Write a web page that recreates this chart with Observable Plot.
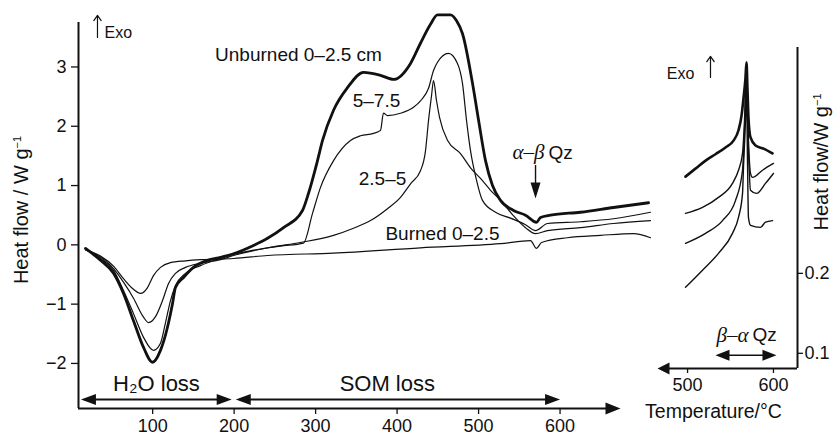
<!DOCTYPE html>
<html><head><meta charset="utf-8">
<script src="https://cdn.jsdelivr.net/npm/d3@7"></script>
<script src="https://cdn.jsdelivr.net/npm/@observablehq/plot@0.6"></script>
<style>
body{margin:0;background:#fff;}
#wrap{position:relative;width:833px;height:436px;font-family:"Liberation Sans",Arial,sans-serif;color:#111;overflow:hidden;}
#wrap svg{position:absolute;top:0;}
.ttl{position:absolute;white-space:nowrap;font-size:20px;transform:translate(-50%,-50%) rotate(-90deg);}
.ttl sup{font-size:11px;vertical-align:7px;line-height:0;}
</style></head><body>
<div id="wrap"></div>
<script>
// ---- main panel series: [temperature °C, heat flow W/g]
const unburned = [[17.6,-0.06],[36,-0.26],[52,-0.48],[64.2,-0.82],[76.5,-1.28],[88.8,-1.73],[99.8,-1.98],[109.6,-1.78],[118.2,-1.39],[124.4,-0.99],[128,-0.72],[137.9,-0.55],[150.1,-0.38],[167.3,-0.26],[183.3,-0.21],[199.2,-0.15],[223.8,-0.01],[241,0.11],[260.6,0.29],[283.9,0.58],[291.3,0.87],[302.3,1.42],[308.5,1.76],[322,2.27],[339.1,2.65],[358.8,2.91],[379.6,2.86],[395.6,2.79],[416.5,3.06],[428.7,3.40],[441,3.72],[449.6,3.88],[465.6,3.88],[473,3.78],[480.3,3.56],[492.6,2.72],[500,2.10],[508.5,1.42],[517.1,1.0],[526.9,0.75],[542.9,0.58],[557.6,0.50],[571.1,0.38],[576,0.46],[588.3,0.50],[625.1,0.55],[665.6,0.63],[708.6,0.71]];
const depth5_75 = [[17.6,-0.08],[36,-0.23],[52,-0.43],[64.2,-0.77],[76.5,-1.16],[88.8,-1.56],[101,-1.78],[109.6,-1.66],[115.8,-1.31],[121.9,-0.94],[128,-0.69],[140.3,-0.48],[158.7,-0.35],[183.3,-0.23],[199.2,-0.16],[223.8,-0.09],[256.9,-0.02],[285.1,0.03],[296.2,0.53],[306,0.97],[322,1.42],[342.8,1.76],[355.1,1.84],[371,1.88],[379.6,1.93],[383.3,2.22],[388.2,2.18],[404.2,2.22],[420.1,2.32],[428.7,2.43],[438.6,2.64],[444.7,2.94],[449.6,3.08],[463,3.23],[474.1,3.06],[480.3,2.72],[485.2,2.10],[490.1,1.59],[497.5,1.09],[504.8,0.75],[520.8,0.55],[539.2,0.45],[557.6,0.34],[569.9,0.24],[584.6,0.36],[625.1,0.39],[665.6,0.44],[711,0.55]];
const depth2_5_5 = [[17.6,-0.08],[36,-0.21],[52,-0.40],[64.2,-0.63],[76.5,-0.90],[88.8,-1.22],[94.9,-1.31],[103.5,-1.21],[112.1,-0.94],[119.5,-0.65],[128,-0.48],[140.3,-0.38],[158.7,-0.31],[183.3,-0.25],[199.2,-0.18],[244.6,-0.04],[281.4,0.04],[322,0.16],[346.5,0.28],[367.4,0.41],[388.2,0.61],[404.2,0.80],[416.5,1.03],[428.7,1.25],[434.9,1.59],[438.6,2.10],[442.3,2.52],[444.7,2.77],[448.4,2.43],[452.1,2.15],[462,1.76],[477.8,1.54],[490.1,1.30],[502.4,1.12],[514.7,0.92],[527,0.75],[541.6,0.51],[557.6,0.29],[569.9,0.19],[584.6,0.24],[625.1,0.29],[665.6,0.36],[711,0.41]];
const burned = [[17.6,-0.08],[36,-0.19],[52,-0.36],[64.2,-0.57],[76.5,-0.75],[85.1,-0.82],[93.7,-0.72],[101,-0.52],[109.6,-0.38],[121.9,-0.30],[140.3,-0.27],[158.7,-0.25],[199.2,-0.23],[241,-0.18],[322,-0.14],[428.7,-0.05],[526.9,0.02],[563.7,0.07],[571.1,-0.06],[577.3,0.04],[609.2,0.12],[649.7,0.16],[690.2,0.19],[711,0.12]];
// ---- inset series (quartz transition region)
const insetA = [[497.6,0.321],[509.2,0.331],[521,0.341],[532.5,0.349],[544.2,0.3575],[553.5,0.366],[559.3,0.379],[562.8,0.397],[565.1,0.419],[567.4,0.444],[568.6,0.464],[569.8,0.429],[570.9,0.395],[573.3,0.37],[579.1,0.36],[588.4,0.356],[598.9,0.35]];
const insetB = [[497.6,0.275],[517.4,0.2825],[536,0.295],[552.3,0.3125],[559.3,0.329],[564,0.35],[566.3,0.391],[568.6,0.454],[570.9,0.366],[573.3,0.325],[575.6,0.32],[587.2,0.329],[600,0.3375]];
const insetC = [[497.6,0.2375],[520.9,0.25],[540.7,0.266],[555.8,0.291],[564,0.329],[566.3,0.379],[568.6,0.4475],[570.9,0.354],[573.3,0.304],[580.3,0.30],[590.7,0.3125],[600,0.325]];
const insetD = [[497.6,0.1825],[517.4,0.204],[536,0.225],[552.3,0.25],[559.3,0.27],[564,0.30],[565.1,0.3325],[567.4,0.391],[568.6,0.435],[569.8,0.34],[570.9,0.27],[573.3,0.26],[584.9,0.2575],[590.7,0.264],[599,0.266]];
// ---- ticks
const mainXTicks = [100,200,300,400,500,600];
const mainYTicks = [-2,-1,0,1,2,3];
const insetXTicks = [500,600];
const insetYTicks = [0.1,0.2];
// ---- annotations
const curveLabels = [
  {text:"Unburned 0–2.5 cm", T:279, v:3.21},
  {text:"5–7.5", T:374.7, v:2.435},
  {text:"2.5–5", T:382.1, v:1.12},
  {text:"Burned 0–2.5", T:455.7, v:0.192}
];
const regions = [
  {label:"H₂O loss", x1:12, x2:197, lx:104.7},
  {label:"SOM loss", x1:202, x2:600, lx:388}
];
const regionArrowY = -2.607, regionLabelY = -2.34;

const ink = "#111";
const rows = a => a.map(([T, v]) => ({T, v}));
function head(dx, dy, L, W) {
  return {draw(ctx) {
    const px = -dy, py = dx, h = W / 2;
    ctx.moveTo(0, 0);
    ctx.lineTo(-dx*L + px*h, -dy*L + py*h);
    ctx.lineTo(-dx*L - px*h, -dy*L - py*h);
    ctx.closePath();
  }};
}
const font = '"Liberation Sans", Arial, sans-serif';
const serif = '"Liberation Serif", "DejaVu Serif", serif';

const xMin = 9, xMax = 711, yMin = -2.76, yMax = 3.75;
const main = Plot.plot({
  width: 833, height: 436,
  marginLeft: 78, marginRight: 183, marginTop: 22, marginBottom: 28,
  x: {domain: [xMin, xMax]},
  y: {domain: [yMin, yMax]},
  style: {fontFamily: font, fontSize: "18px", color: ink, background: "white", overflow: "visible"},
  marks: [
    Plot.axisY({ticks: mainYTicks, tickSize: 7, tickPadding: 5, fontSize: 18, label: null, strokeWidth: 1.3,
      tickFormat: d => d < 0 ? "−" + Math.abs(d) : String(d)}),
    Plot.axisX({ticks: mainXTicks, tickSize: 6, tickPadding: 5, fontSize: 18, label: null, strokeWidth: 1.3}),
    Plot.ruleX([xMin], {y1: yMin, y2: yMax, stroke: ink, strokeWidth: 2}),
    Plot.ruleY([yMin], {x1: xMin, x2: 668, stroke: ink, strokeWidth: 2}),
    Plot.dot([{T: 674.2, v: yMin}], {x: "T", y: "v", symbol: head(1, 0, 15, 12), fill: ink, stroke: "none"}),
    // region arrows
    Plot.ruleY(regions, {y: () => regionArrowY, x1: d => d.x1 + 5, x2: d => d.x2 - 5, stroke: ink, strokeWidth: 2}),
    Plot.dot(regions, {x: "x2", y: () => regionArrowY, symbol: head(1, 0, 15, 11), fill: ink, stroke: "none"}),
    Plot.dot(regions, {x: "x1", y: () => regionArrowY, symbol: head(-1, 0, 15, 11), fill: ink, stroke: "none"}),
    Plot.text(regions, {x: "lx", y: () => regionLabelY, text: "label", fontSize: 22, fill: ink}),
    // curves
    Plot.line(rows(burned), {x: "T", y: "v", stroke: ink, strokeWidth: 1.2, curve: "monotone-x"}),
    Plot.line(rows(depth2_5_5), {x: "T", y: "v", stroke: ink, strokeWidth: 1.2, curve: "monotone-x"}),
    Plot.line(rows(depth5_75), {x: "T", y: "v", stroke: ink, strokeWidth: 1.2, curve: "monotone-x"}),
    Plot.line(rows(unburned), {x: "T", y: "v", stroke: ink, strokeWidth: 2.8, curve: "monotone-x"}),
    // labels
    Plot.text(curveLabels, {x: "T", y: "v", text: "text", fontSize: 19, fill: ink}),
    Plot.text([{T: 580.9, v: 1.558}], {x: "T", y: "v", text: () => "α–β", textAnchor: "end", fontSize: 21, fontStyle: "italic", fontFamily: serif, fill: ink}),
    Plot.text([{T: 580.9, v: 1.558}], {x: "T", y: "v", text: () => "Qz", textAnchor: "start", dx: 4, fontSize: 19, fill: ink}),
    Plot.ruleX([569.9], {y1: 1.339, y2: 0.95, stroke: ink, strokeWidth: 1.4}),
    Plot.dot([{T: 569.9, v: 0.782}], {x: "T", y: "v", symbol: head(0, 1, 16, 10), fill: ink, stroke: "none"}),
    Plot.arrow([{x1: 32.3, y1: 3.497, x2: 32.3, y2: 3.87}], {x1: "x1", y1: "y1", x2: "x2", y2: "y2", stroke: ink, strokeWidth: 1.2, headLength: 8, headAngle: 70}),
    Plot.text([{T: 40.9, v: 3.58}], {x: "T", y: "v", text: () => "Exo", textAnchor: "start", fontSize: 16, fill: ink})
  ]
});

const ixMin = 465, ixMax = 628, iyMin = 0.081, iyMax = 0.4825;
const inset = Plot.plot({
  width: 233, height: 436,
  marginLeft: 57, marginRight: 36, marginTop: 47, marginBottom: 68,
  x: {domain: [ixMin, ixMax]},
  y: {domain: [iyMin, iyMax]},
  style: {fontFamily: font, fontSize: "18px", color: ink, background: "transparent", overflow: "visible"},
  marks: [
    Plot.axisY({anchor: "right", ticks: insetYTicks, tickSize: 5, tickPadding: 2, fontSize: 18, label: null, strokeWidth: 1.3,
      tickFormat: d => d.toFixed(1)}),
    Plot.axisX({ticks: insetXTicks, tickSize: 5, tickPadding: 5, fontSize: 18, label: null, strokeWidth: 1.3}),
    Plot.ruleX([ixMax], {y1: iyMin, y2: iyMax, stroke: ink, strokeWidth: 2}),
    Plot.ruleY([iyMin], {x1: ixMin + 8, x2: ixMax, stroke: ink, strokeWidth: 2}),
    Plot.dot([{T: ixMin, v: iyMin}], {x: "T", y: "v", symbol: head(-1, 0, 12, 12), fill: ink, stroke: "none"}),
    Plot.line(rows(insetD), {x: "T", y: "v", stroke: ink, strokeWidth: 1.4, curve: "monotone-x"}),
    Plot.line(rows(insetC), {x: "T", y: "v", stroke: ink, strokeWidth: 1.4, curve: "monotone-x"}),
    Plot.line(rows(insetB), {x: "T", y: "v", stroke: ink, strokeWidth: 1.4, curve: "monotone-x"}),
    Plot.line(rows(insetA), {x: "T", y: "v", stroke: ink, strokeWidth: 2.6, curve: "monotone-x"}),
    Plot.text([{T: 491.8, v: 0.45}], {x: "T", y: "v", text: () => "Exo", fontSize: 16, fill: ink}),
    Plot.arrow([{x1: 526.7, y1: 0.445, x2: 526.7, y2: 0.4713}], {x1: "x1", y1: "y1", x2: "x2", y2: "y2", stroke: ink, strokeWidth: 1.2, headLength: 8, headAngle: 70}),
    Plot.text([{T: 570.9, v: 0.1225}], {x: "T", y: "v", text: () => "β–α", textAnchor: "end", fontSize: 21, fontStyle: "italic", fontFamily: serif, fill: ink}),
    Plot.text([{T: 570.9, v: 0.1225}], {x: "T", y: "v", text: () => "Qz", textAnchor: "start", dx: 4, fontSize: 19, fill: ink}),
    Plot.ruleY([0.0975], {x1: 540, x2: 596, stroke: ink, strokeWidth: 1.4}),
    Plot.dot([{T: 603.5, v: 0.0975}], {x: "T", y: "v", symbol: head(1, 0, 14, 11), fill: ink, stroke: "none"}),
    Plot.dot([{T: 532.5, v: 0.0975}], {x: "T", y: "v", symbol: head(-1, 0, 14, 11), fill: ink, stroke: "none"}),
    Plot.text([{T: 530.2, v: 0.0275}], {x: "T", y: "v", text: () => "Temperature/°C", fontSize: 19.5, fill: ink})
  ]
});
inset.style.left = "600px";

const wrap = document.getElementById("wrap");
wrap.appendChild(main);
wrap.appendChild(inset);
const t1 = document.createElement("div");
t1.className = "ttl"; t1.style.left = "21px"; t1.style.top = "210px";
t1.innerHTML = "Heat flow / W g<sup>−1</sup>";
const t2 = document.createElement("div");
t2.className = "ttl"; t2.style.left = "821px"; t2.style.top = "162px";
t2.innerHTML = "Heat flow/W g<sup>−1</sup>";
wrap.appendChild(t1); wrap.appendChild(t2);
</script>
</body></html>
